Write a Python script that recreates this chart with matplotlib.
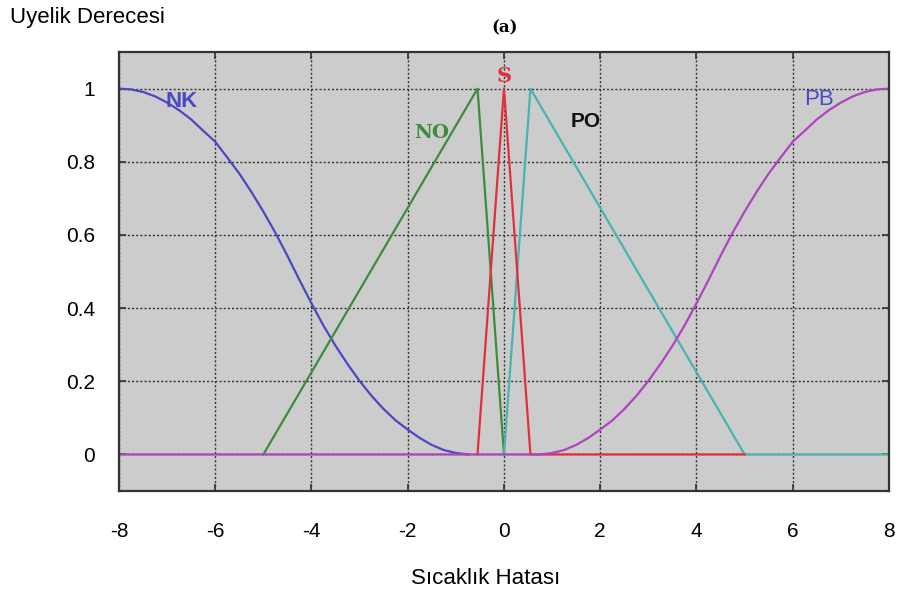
import numpy as np
import matplotlib
matplotlib.use("Agg")
import matplotlib.pyplot as plt

# membership curves
nk_x = [-8, -7.75, -7.5, -7.25, -7, -6.75, -6.5, -6.25, -6, -5.75, -5.5, -5.25, -5, -4.75,
        -4.5, -4.25, -4, -3.75, -3.5, -3.25, -3, -2.75, -2.5, -2.25, -2, -1.75, -1.5,
        -1.25, -1, -0.75]
nk_y = [1.0, 0.998, 0.991, 0.979, 0.962, 0.941, 0.916, 0.885, 0.855, 0.812, 0.768, 0.718,
        0.664, 0.606, 0.543, 0.477, 0.413, 0.352, 0.297, 0.247, 0.201, 0.160, 0.124,
        0.093, 0.068, 0.045, 0.026, 0.012, 0.004, 0.0]

no_x = [-5, -0.55, 0]
no_y = [0, 1, 0]

s_x = [-0.55, 0, 0.55, 5]
s_y = [0, 1, 0, 0]

po_x = [0, 0.55, 5, 8]
po_y = [0, 1, 0, 0]

pb_x = [-8, 0.75, 1, 1.25, 1.5, 1.75, 2, 2.25, 2.5, 2.75, 3, 3.25, 3.5, 3.75, 4, 4.25,
        4.5, 4.75, 5, 5.25, 5.5, 5.75, 6, 6.25, 6.5, 6.75, 7, 7.25, 7.5, 7.75, 8]
pb_y = [0, 0.0, 0.004, 0.012, 0.026, 0.045, 0.068, 0.093, 0.124, 0.160, 0.201, 0.247,
        0.297, 0.352, 0.413, 0.477, 0.543, 0.606, 0.664, 0.718, 0.768, 0.812, 0.855,
        0.885, 0.916, 0.941, 0.962, 0.979, 0.991, 0.998, 1.0]

x_ticks = [-8, -6, -4, -2, 0, 2, 4, 6, 8]
y_ticks = [0, 0.2, 0.4, 0.6, 0.8, 1]
y_ticklabels = ["0", "0.2", "0.4", "0.6", "0.8", "1"]

blue = "#4a48c4"
green = "#3c8c3c"
red = "#e0303c"
teal = "#48b4b0"
magenta = "#b044c0"

plt.rcParams["font.family"] = ["Liberation Sans", "DejaVu Sans"]

fig = plt.figure(figsize=(9.2, 5.98), dpi=100)
ax = fig.add_axes([0.1293, 0.1789, 0.837, 0.734])
ax.set_facecolor("#cccccc")

ax.plot(nk_x, nk_y, color=blue, lw=1.6)
ax.plot(no_x, no_y, color=green, lw=1.6)
ax.plot(po_x, po_y, color=teal, lw=1.6)
ax.plot(s_x, s_y, color=red, lw=1.6)
ax.plot(pb_x, pb_y, color=magenta, lw=1.6)

ax.set_xlim(-8, 8)
ax.set_ylim(-0.1, 1.1)
ax.set_xticks(x_ticks)
ax.set_xticklabels([str(t) for t in x_ticks])
ax.set_yticks(y_ticks)
ax.set_yticklabels(y_ticklabels)
ax.grid(True, color="#333333", linestyle=(0, (1.5, 1.5)), linewidth=1.0)
ax.tick_params(direction="in", length=5, width=1.2, color="#333333",
               labelsize=15, top=True, right=True)
ax.tick_params(axis="x", pad=22)
ax.tick_params(axis="y", pad=17)
for sp in ax.spines.values():
    sp.set_linewidth(1.6)
    sp.set_color("#333333")

ax.text(-6.7, 0.965, "NK", color=blue, fontsize=16, fontweight="bold", ha="center", va="center")
ax.text(-1.5, 0.88, "NO", color=green, fontsize=14, fontweight="bold", family="serif", ha="center", va="center")
ax.text(0.0, 1.035, "S", color=red, fontsize=15, fontweight="bold", family="serif", ha="center", va="center")
ax.text(1.7, 0.91, "PO", color="#111111", fontsize=15, fontweight="bold", ha="center", va="center")
ax.text(6.55, 0.97, "PB", color=blue, fontsize=16, ha="center", va="center")

fig.text(0.549, 0.953, "(a)", fontsize=12, fontweight="bold", family="serif", ha="center", va="center")
fig.text(0.011, 0.970, "Uyelik Derecesi", fontsize=16, ha="left", va="center")
fig.text(0.528, 0.033, "Sıcaklık Hatası", fontsize=16, ha="center", va="center")

fig.savefig("out.png", dpi=100)
